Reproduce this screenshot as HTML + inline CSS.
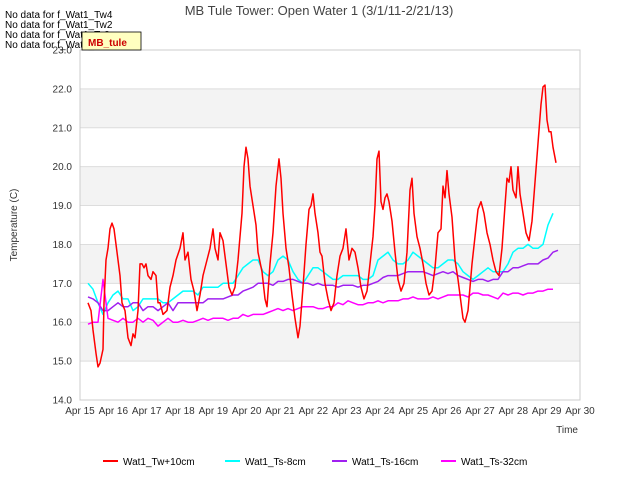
<!DOCTYPE html>
<html><head><meta charset="utf-8"><style>
body{margin:0;background:#fff;font-family:"Liberation Sans",sans-serif}
</style></head><body>
<svg width="640" height="480" xmlns="http://www.w3.org/2000/svg" font-family="Liberation Sans, sans-serif">
<g id="bands"></g>
<g id="grid"></g>
<g id="series"></g>
<rect x="80" y="50" width="500" height="350" fill="none" stroke="#ccc"/>
<g id="xt" font-size="10" fill="#333"></g>
<g id="yt" font-size="10" fill="#333"></g>
<text x="319" y="15" font-size="13" fill="#444" text-anchor="middle">MB Tule Tower: Open Water 1 (3/1/11-2/21/13)</text>
<text x="578" y="433" font-size="10" fill="#333" text-anchor="end">Time</text>
<text transform="translate(17,225) rotate(-90)" font-size="10" fill="#333" text-anchor="middle">Temperature (C)</text>
<g font-size="10" fill="#000">
<text x="5" y="18">No data for f_Wat1_Tw4</text>
<text x="5" y="28">No data for f_Wat1_Tw2</text>
<text x="5" y="38">No data for f_Wat1_Ts2</text>
<text x="5" y="48">No data for f_Wat1_Tw6</text>
</g>
<g>
<rect x="82" y="32" width="59" height="18" fill="#ffffc0" stroke="#000" stroke-width="0.8"/>
<text x="88" y="46" font-size="10" fill="#c00" font-weight="bold">MB_tule</text>
</g>
<g id="legend" font-size="10" fill="#000"></g>
</svg>
<script>
const yTicks=[14,15,16,17,18,19,20,21,22,23];
const xTickLabels=["Apr 15","Apr 16","Apr 17","Apr 18","Apr 19","Apr 20","Apr 21","Apr 22","Apr 23","Apr 24","Apr 25","Apr 26","Apr 27","Apr 28","Apr 29","Apr 30"];
const twDays=[0.24,0.33,0.39,0.48,0.54,0.6,0.69,0.72,0.78,0.84,0.9,0.96,1.02,1.11,1.2,1.26,1.35,1.44,1.53,1.59,1.65,1.74,1.8,1.86,1.92,1.98,2.04,2.13,2.19,2.28,2.34,2.4,2.49,2.61,2.7,2.79,2.88,3.0,3.09,3.15,3.24,3.33,3.42,3.51,3.6,3.69,3.81,3.9,3.99,4.05,4.14,4.2,4.29,4.38,4.47,4.56,4.65,4.74,4.86,4.92,4.98,5.04,5.1,5.19,5.28,5.34,5.46,5.55,5.61,5.7,5.79,5.88,5.97,6.03,6.09,6.18,6.27,6.36,6.45,6.54,6.6,6.69,6.78,6.87,6.93,6.99,7.05,7.14,7.2,7.26,7.35,7.44,7.53,7.62,7.71,7.8,7.89,7.98,8.07,8.16,8.25,8.34,8.43,8.52,8.61,8.7,8.79,8.85,8.91,8.97,9.03,9.09,9.15,9.21,9.27,9.36,9.45,9.54,9.63,9.72,9.81,9.9,9.96,10.02,10.11,10.2,10.29,10.38,10.47,10.56,10.65,10.74,10.83,10.89,10.95,11.01,11.07,11.16,11.25,11.34,11.43,11.49,11.55,11.64,11.7,11.76,11.85,11.94,12.03,12.12,12.21,12.3,12.39,12.48,12.57,12.66,12.75,12.81,12.87,12.93,12.99,13.08,13.14,13.2,13.29,13.38,13.47,13.56,13.65,13.74,13.83,13.89,13.95,14.01,14.07,14.13,14.19,14.28];
const twValues=[16.5,16.3,15.8,15.2,14.85,14.95,15.3,16.5,17.6,17.9,18.4,18.55,18.4,17.8,17.2,16.5,16.3,15.6,15.4,15.7,15.6,16.3,17.5,17.5,17.4,17.5,17.2,17.1,17.3,17.2,16.5,16.5,16.2,16.3,16.9,17.2,17.6,17.9,18.3,17.6,17.8,17.1,16.8,16.3,16.7,17.2,17.6,17.9,18.4,17.9,17.6,18.3,18.1,17.5,16.9,16.7,16.9,17.6,18.8,20.0,20.5,20.2,19.5,19.0,18.5,17.8,17.3,16.6,16.4,17.5,18.3,19.5,20.2,19.7,18.8,17.9,17.4,16.7,16.1,15.6,15.9,16.9,18.0,18.9,19.0,19.3,18.8,18.3,17.8,17.7,17.0,16.6,16.3,16.5,17.2,17.7,17.9,18.4,17.6,17.9,17.8,17.4,16.9,16.6,16.8,17.5,18.2,19.0,20.2,20.4,19.1,18.9,19.2,19.3,19.1,18.6,17.8,17.1,16.8,17.0,17.8,19.4,19.7,18.8,18.2,17.9,17.5,17.0,16.7,16.8,17.4,18.3,18.4,19.5,19.2,19.9,19.3,18.7,17.6,17.1,16.5,16.1,16.0,16.3,16.9,17.5,18.2,18.9,19.1,18.8,18.3,18.0,17.6,17.3,17.2,17.9,19.0,19.7,19.6,20.0,19.4,19.2,20.0,19.3,18.8,18.3,18.1,18.6,19.6,20.6,21.6,22.05,22.1,21.2,20.9,20.9,20.5,20.1];
const sampleStart=0.24, sampleStep=0.15;
const ts8Values=[17.0,16.85,16.5,16.2,16.5,16.7,16.8,16.6,16.6,16.3,16.4,16.6,16.6,16.6,16.6,16.5,16.5,16.6,16.7,16.8,16.8,16.8,16.7,16.9,16.9,16.9,16.9,17.0,17.0,17.0,17.2,17.4,17.5,17.6,17.6,17.3,17.2,17.3,17.6,17.7,17.6,17.3,17.1,17.0,17.2,17.4,17.4,17.3,17.2,17.1,17.1,17.2,17.2,17.2,17.2,17.1,17.1,17.2,17.6,17.7,17.8,17.6,17.5,17.5,17.6,17.8,17.7,17.6,17.5,17.4,17.4,17.5,17.6,17.6,17.5,17.3,17.2,17.1,17.2,17.3,17.4,17.3,17.3,17.3,17.5,17.8,17.9,17.9,18.0,17.9,17.9,18.0,18.5,18.8];
const ts16Values=[16.65,16.6,16.5,16.3,16.3,16.4,16.5,16.4,16.4,16.5,16.5,16.3,16.4,16.4,16.3,16.4,16.5,16.3,16.5,16.5,16.5,16.5,16.5,16.5,16.6,16.6,16.6,16.6,16.65,16.7,16.7,16.8,16.85,16.9,17.0,17.0,17.0,16.95,17.05,17.05,17.1,17.1,17.05,17.0,17.0,16.95,17.0,16.95,16.95,16.95,16.9,16.95,16.95,16.95,16.9,16.95,16.95,17.0,17.05,17.15,17.2,17.2,17.2,17.25,17.3,17.3,17.3,17.3,17.25,17.2,17.25,17.3,17.25,17.3,17.2,17.15,17.1,17.05,17.1,17.1,17.05,17.1,17.1,17.3,17.3,17.4,17.4,17.45,17.5,17.5,17.5,17.6,17.65,17.8,17.85];
const ts32Values=[15.95,16.0,16.0,17.1,16.1,16.05,16.0,16.1,16.0,16.0,16.1,16.0,16.1,16.05,15.9,16.0,16.1,16.0,16.0,16.05,16.0,16.0,16.05,16.1,16.05,16.1,16.1,16.1,16.05,16.1,16.1,16.2,16.15,16.2,16.2,16.2,16.25,16.3,16.35,16.3,16.35,16.3,16.35,16.4,16.4,16.4,16.35,16.35,16.4,16.4,16.5,16.45,16.55,16.5,16.45,16.45,16.5,16.5,16.55,16.5,16.55,16.55,16.55,16.6,16.6,16.65,16.6,16.6,16.6,16.65,16.6,16.65,16.7,16.7,16.7,16.7,16.65,16.75,16.75,16.7,16.7,16.65,16.6,16.75,16.7,16.75,16.75,16.7,16.75,16.75,16.8,16.8,16.85,16.85];
const NS="http://www.w3.org/2000/svg";
const X=d=>80+d*500/15, Y=v=>400-(v-14)*350/9;
function mk(t,a,p){const e=document.createElementNS(NS,t);for(const k in a)e.setAttribute(k,a[k]);p.appendChild(e);return e;}
const bands=document.getElementById('bands'),grid=document.getElementById('grid'),yt=document.getElementById('yt'),xt=document.getElementById('xt');
[15,17,19,21].forEach(v=>{const r=mk('rect',{x:80,y:Y(v+1),width:500,height:Y(v)-Y(v+1),fill:'#f3f3f3'},bands);

});
yTicks.forEach(v=>{const l=mk('line',{x1:80,x2:580,y1:Y(v),y2:Y(v),stroke:'#ddd'},grid);


const t=mk('text',{x:72,y:Y(v)+3.5,'text-anchor':'end'},yt);t.textContent=v.toFixed(1);

});
xTickLabels.forEach((s,i)=>{const t=mk('text',{x:X(i),y:414,'text-anchor':'middle'},xt);t.textContent=s;

});
const ser=document.getElementById('series');
function line(pts,color,name){const p=mk('polyline',{points:pts.map(q=>X(q[0]).toFixed(1)+','+Y(q[1]).toFixed(1)).join(' '),fill:'none',stroke:color,'stroke-width':1.5,'stroke-linejoin':'round'},ser);

}
const uni=a=>a.map((v,i)=>[sampleStart+i*sampleStep,v]);
line(uni(ts8Values),'#00ffff','line-ts-8cm');
line(uni(ts16Values),'#a020f0','line-ts-16cm');
line(uni(ts32Values),'#ff00ff','line-ts-32cm');
line(twDays.map((d,i)=>[d,twValues[i]]),'#ff0000','line-tw-10cm');
const leg=document.getElementById('legend');
[['Wat1_Tw+10cm','#ff0000',103],['Wat1_Ts-8cm','#00ffff',225],['Wat1_Ts-16cm','#a020f0',332],['Wat1_Ts-32cm','#ff00ff',441]].forEach(e=>{
const g=mk('g',{},leg);


mk('line',{x1:e[2],x2:e[2]+15,y1:461,y2:461,stroke:e[1],'stroke-width':2},g);
const t=mk('text',{x:e[2]+20,y:465},g);t.textContent=e[0];});
</script>
</body></html>
